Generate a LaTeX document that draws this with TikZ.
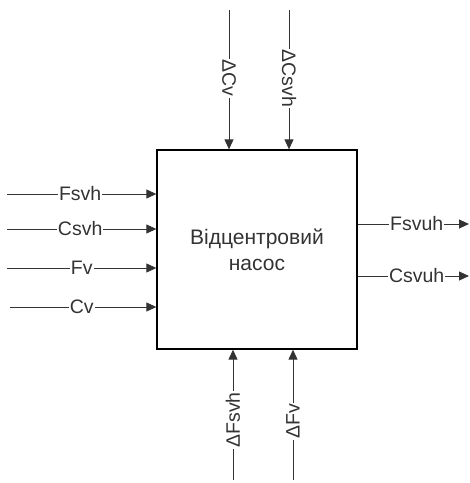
\documentclass[tikz,border=0pt]{standalone}
\usepackage{fontspec}
\setmainfont{Liberation Sans}
\usetikzlibrary{arrows.meta}
\begin{document}
\begin{tikzpicture}[x=1pt,y=-1pt,
  flow/.style={draw=black!80,line width=0.9pt,-{Triangle[length=10pt,width=9pt]}},
  lab/.style={fill=white,inner sep=1pt,font=\fontsize{19.5}{22}\selectfont,text=black!80},
  blk/.style={draw=black,line width=1.3pt,minimum width=200pt,minimum height=199pt,inner sep=0pt,align=center,font=\fontsize{21}{26}\selectfont,text=black!80}]
\useasboundingbox (0,0) rectangle (470,483);
\node[blk] (box) at (257,249.5) {Відцентровий\\насос};
% left inputs
\coordinate (l1) at (7,194);
\coordinate (l2) at (7,229);
\coordinate (l3) at (7,268);
\coordinate (l4) at (10,307);
\draw[flow] (l1) -- node[lab,pos=0.49]{Fsvh} (box.west |- l1);
\draw[flow] (l2) -- node[lab,pos=0.49]{Csvh} (box.west |- l2);
\draw[flow] (l3) -- node[lab,pos=0.5]{Fv} (box.west |- l3);
\draw[flow] (l4) -- node[lab,pos=0.49]{Cv} (box.west |- l4);
% right outputs
\coordinate (r1) at (469,224);
\coordinate (r2) at (469,276);
\draw[flow] (box.east |- r1) -- node[lab,pos=0.53]{Fsvuh} (r1);
\draw[flow] (box.east |- r2) -- node[lab,pos=0.53]{Csvuh} (r2);
% top inputs
\coordinate (t1) at (229,10);
\coordinate (t2) at (289,10);
\draw[flow] (t1) -- node[lab,pos=0.49,rotate=-90]{ΔCv} (box.north -| t1);
\draw[flow] (t2) -- node[lab,pos=0.49,rotate=-90]{ΔCsvh} (box.north -| t2);
% bottom inputs
\coordinate (b1) at (233,480);
\coordinate (b2) at (293,480);
\draw[flow] (b1) -- node[lab,pos=0.46,rotate=90]{ΔFsvh} (box.south -| b1);
\draw[flow] (b2) -- node[lab,pos=0.45,rotate=90]{ΔFv} (box.south -| b2);
\end{tikzpicture}
\end{document}
